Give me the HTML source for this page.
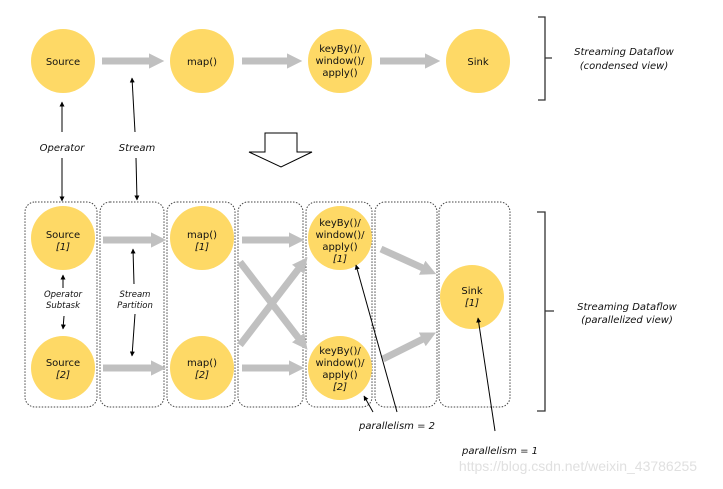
<!DOCTYPE html>
<html><head><meta charset="utf-8"><style>
body{margin:0;background:#fff}
svg text{font-family:"DejaVu Sans","Liberation Sans",sans-serif;font-size:10px;fill:#111}
.i{font-style:italic}
</style></head><body>
<svg width="723" height="484" viewBox="0 0 723 484" xmlns="http://www.w3.org/2000/svg">
<defs>
<marker id="ah" viewBox="0 0 10 10" refX="9" refY="5" markerWidth="5" markerHeight="5" orient="auto-start-reverse"><path d="M0,0L10,5L0,10z" fill="#000"/></marker>
<marker id="ga" viewBox="0 0 10 10" refX="2" refY="5" markerWidth="2.2" markerHeight="2.2" orient="auto"><path d="M0,0L10,5L0,10z" fill="#c0c0c0"/></marker>
</defs>
<g fill="#fed966">
<circle cx="63" cy="61" r="32"/><circle cx="202" cy="61" r="32"/><circle cx="340" cy="61" r="32"/><circle cx="478" cy="61" r="32"/>
</g>
<g stroke="#c0c0c0" stroke-width="7" marker-end="url(#ga)">
<line x1="102" y1="61" x2="152" y2="61"/><line x1="242" y1="61" x2="290" y2="61"/><line x1="380" y1="61" x2="428" y2="61"/>
</g>
<text x="63" y="65" text-anchor="middle">Source</text>
<text x="202" y="65" text-anchor="middle">map()</text>
<text x="340" y="52" text-anchor="middle">keyBy()/</text>
<text x="340" y="64" text-anchor="middle">window()/</text>
<text x="340" y="76" text-anchor="middle">apply()</text>
<text x="478" y="65" text-anchor="middle">Sink</text>
<path d="M538,17H545V100H538M545,58H552" fill="none" stroke="#333" stroke-width="1.3"/>
<text class="i" x="624" y="55" text-anchor="middle">Streaming Dataflow</text>
<text class="i" x="624" y="69" text-anchor="middle">(condensed view)</text>
<line x1="62" y1="132" x2="62" y2="102" stroke="#000" marker-end="url(#ah)"/>
<line x1="62" y1="158" x2="62" y2="201" stroke="#000" marker-end="url(#ah)"/>
<text class="i" x="62" y="151" text-anchor="middle">Operator</text>
<line x1="135" y1="132" x2="132" y2="78" stroke="#000" marker-end="url(#ah)"/>
<line x1="136" y1="158" x2="137" y2="200" stroke="#000" marker-end="url(#ah)"/>
<text class="i" x="137" y="151" text-anchor="middle">Stream</text>
<path d="M265,133H297V152H312L281,167L249,152H265Z" fill="#fff" stroke="#000" stroke-width="1"/>
<g fill="none" stroke="#444" stroke-dasharray="1.5,1.5">
<rect x="25" y="202" width="72" height="205" rx="10"/>
<rect x="100" y="202" width="64" height="205" rx="10"/>
<rect x="167" y="202" width="68" height="205" rx="10"/>
<rect x="238" y="202" width="65" height="205" rx="10"/>
<rect x="306" y="202" width="66" height="205" rx="10"/>
<rect x="375" y="202" width="62" height="205" rx="10"/>
<rect x="439" y="202" width="71" height="205" rx="10"/>
</g>
<g stroke="#c0c0c0" stroke-width="7" marker-end="url(#ga)">
<line x1="103" y1="240" x2="154" y2="240"/><line x1="103" y1="368" x2="154" y2="368"/>
<line x1="242" y1="240" x2="292" y2="240"/><line x1="242" y1="368" x2="292" y2="368"/>
<line x1="240" y1="262" x2="300" y2="340"/><line x1="240" y1="345" x2="300" y2="267"/>
<line x1="381" y1="249" x2="425" y2="269"/><line x1="383" y1="359" x2="425" y2="338"/>
</g>
<g fill="#fed966">
<circle cx="63" cy="238" r="32"/><circle cx="63" cy="368" r="32"/>
<circle cx="202" cy="238" r="32"/><circle cx="202" cy="368" r="32"/>
<circle cx="340" cy="238" r="32"/><circle cx="340" cy="368" r="32"/>
<circle cx="472" cy="297" r="32"/>
</g>
<text x="63" y="238" text-anchor="middle">Source</text><text class="i" x="63" y="250" text-anchor="middle">[1]</text>
<text x="63" y="366" text-anchor="middle">Source</text><text class="i" x="63" y="378" text-anchor="middle">[2]</text>
<text x="202" y="238" text-anchor="middle">map()</text><text class="i" x="202" y="250" text-anchor="middle">[1]</text>
<text x="202" y="366" text-anchor="middle">map()</text><text class="i" x="202" y="378" text-anchor="middle">[2]</text>
<text x="340" y="226" text-anchor="middle">keyBy()/</text><text x="340" y="238" text-anchor="middle">window()/</text><text x="340" y="250" text-anchor="middle">apply()</text><text class="i" x="340" y="262" text-anchor="middle">[1]</text>
<text x="340" y="354" text-anchor="middle">keyBy()/</text><text x="340" y="366" text-anchor="middle">window()/</text><text x="340" y="378" text-anchor="middle">apply()</text><text class="i" x="340" y="390" text-anchor="middle">[2]</text>
<text x="472" y="294" text-anchor="middle">Sink</text><text class="i" x="472" y="306" text-anchor="middle">[1]</text>
<text class="i" x="63" y="297" text-anchor="middle" style="font-size:8.5px">Operator</text>
<text class="i" x="63" y="308" text-anchor="middle" style="font-size:8.5px">Subtask</text>
<text class="i" x="135" y="297" text-anchor="middle" style="font-size:8.5px">Stream</text>
<text class="i" x="135" y="308" text-anchor="middle" style="font-size:8.5px">Partition</text>
<line x1="63" y1="288" x2="63" y2="275" stroke="#000" marker-end="url(#ah)"/>
<line x1="64" y1="316" x2="63" y2="329" stroke="#000" marker-end="url(#ah)"/>
<line x1="134" y1="284" x2="133" y2="249" stroke="#000" marker-end="url(#ah)"/>
<line x1="135" y1="314" x2="132" y2="356" stroke="#000" marker-end="url(#ah)"/>
<line x1="397" y1="412" x2="356" y2="265" stroke="#000" marker-end="url(#ah)"/>
<line x1="373" y1="412" x2="364" y2="396" stroke="#000" marker-end="url(#ah)"/>
<line x1="495" y1="431" x2="478" y2="318" stroke="#000" marker-end="url(#ah)"/>
<text class="i" x="397" y="429" text-anchor="middle">parallelism = 2</text>
<text class="i" x="500" y="454" text-anchor="middle">parallelism = 1</text>
<path d="M537,212H545V411H537M545,311H554" fill="none" stroke="#333" stroke-width="1.3"/>
<text class="i" x="627" y="310" text-anchor="middle">Streaming Dataflow</text>
<text class="i" x="627" y="323" text-anchor="middle">(parallelized view)</text>
<text x="578" y="471" text-anchor="middle" style="font-family:'Liberation Sans',sans-serif;font-size:14px;fill:#e0e0e0">https://blog.csdn.net/weixin_43786255</text>
</svg>
</body></html>
